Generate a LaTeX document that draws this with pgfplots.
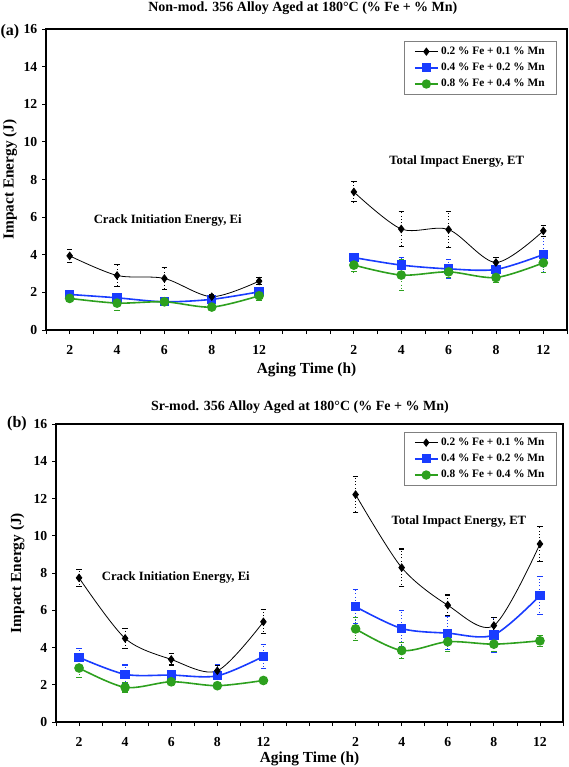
\documentclass[border=0pt]{standalone}
\usepackage{pgfplots}
\pgfplotsset{compat=1.18}
\usepackage{fontspec}
\setmainfont{Liberation Serif}
\definecolor{cblue}{RGB}{25,60,255}
\definecolor{cgreen}{RGB}{45,160,30}
\pgfplotsset{
 panel/.style={
  scale only axis, xmin=-0.5, xmax=10.5, ymin=0, ymax=16,
  ytick={0,2,...,16},
  xtick={0,1,2,3,4,6,7,8,9,10},
  xticklabels={2,4,6,8,12,2,4,6,8,12},
  minor xtick={-0.5,0.5,1.5,2.5,3.5,4.5,5,5.5,6.5,7.5,8.5,9.5,10.5},
  tick align=outside, tick pos=left,
  major tick length=3pt, minor tick length=3pt,
  every tick/.style={black, line width=0.6pt},
  axis line style={line width=0.8pt},
  tick label style={font=\fontsize{10.3}{11}\selectfont\bfseries},
  /pgf/number format/assume math mode=true,
  label style={font=\fontsize{11.5}{12}\selectfont\bfseries},
  every axis title/.style={font=\fontsize{10.5}{12}\selectfont\bfseries, anchor=center},
  xticklabel style={yshift=-5pt},
  legend style={draw=gray, line width=0.7pt, font=\fontsize{8.5}{9}\selectfont\bfseries, inner xsep=7pt, inner ysep=2pt, row sep=1pt},
  legend cell align=left,
 },
 ebars/.style={error bars/y dir=both, error bars/y explicit,
   error bars/error bar style={dotted, line width=0.8pt},
   error bars/error mark options={rotate=90, mark size=2pt, line width=0.8pt}},
 sblack/.style={black, line width=0.6pt, smooth, tension=0.5, mark=diamond*, mark size=2.8pt, mark options={solid}, ebars},
 sblue/.style={cblue, line width=1.2pt, smooth, tension=0.5, mark=square*, mark size=2.9pt, mark options={solid}, ebars},
 sgreen/.style={cgreen, line width=1.2pt, smooth, tension=0.5, mark=*, mark size=3pt, mark options={solid}, ebars},
 lblack/.style={black, line width=0.6pt, mark=diamond*, mark size=2.7pt},
 lblue/.style={cblue, line width=1.2pt, mark=square*, mark size=2.7pt},
 lgreen/.style={cgreen, line width=1.2pt, mark=*, mark size=2.9pt},
}
\begin{document}
\begin{tikzpicture}
\path[use as bounding box] (0,0) rectangle (426pt,-575.25pt);
% ---------- panel (a)
\begin{axis}[panel, at={(34.5pt,-247.5pt)}, anchor=south west, width=390.75pt, height=225.75pt,
  title={Non-mod. 356 Alloy Aged at 180°C (\% Fe + \% Mn)},
  title style={at={(axis description cs:0.493,1.068)}},
  xlabel={Aging Time (h)}, ylabel={Impact Energy (J)},
  xlabel style={at={(axis description cs:0.5,-0.133)}, anchor=center},
  ylabel style={at={(axis description cs:-0.069,0.5)}, anchor=center},
  legend style={at={(0.981,0.96)}, anchor=north east}]
\addlegendimage{lblack}\addlegendentry{0.2 \% Fe + 0.1 \% Mn}
\addlegendimage{lblue}\addlegendentry{0.4 \% Fe + 0.2 \% Mn}
\addlegendimage{lgreen}\addlegendentry{0.8 \% Fe + 0.4 \% Mn}
\addplot[sblue, forget plot] coordinates {(0,1.89)+-(0,0.12) (1,1.71)+-(0,0.15) (2,1.50)+-(0,0.2) (3,1.63)+-(0,0.12) (4,2.03)+-(0,0.25)};
\addplot[sblue, forget plot] coordinates {(6,3.85)+-(0,0.15) (7,3.45)+-(0,0.4) (8,3.25)+-(0,0.5) (9,3.22)+-(0,0.12) (10,4.01)+-(0,0.95)};
\addplot[sgreen, forget plot] coordinates {(0,1.68)+-(0,0.15) (1,1.43)+-(0,0.37) (2,1.50)+-(0,0.15) (3,1.22)+-(0,0.1) (4,1.82)+-(0,0.25)};
\addplot[sgreen, forget plot] coordinates {(6,3.45)+-(0,0.36) (7,2.92)+-(0,0.8) (8,3.09)+-(0,0.3) (9,2.79)+-(0,0.28) (10,3.57)+-(0,0.5)};
\addplot[sblack, forget plot] coordinates {(0,3.94)+-(0,0.33) (1,2.90)+-(0,0.6) (2,2.74)+-(0,0.58) (3,1.77)+-(0,0.1) (4,2.60)+-(0,0.18)};
\addplot[sblack, forget plot] coordinates {(6,7.34)+-(0,0.53) (7,5.37)+-(0,0.95) (8,5.34)+-(0,0.95) (9,3.59)+-(0,0.25) (10,5.27)+-(0,0.3)};
\node[font=\fontsize{9.5}{10}\selectfont\bfseries] at (axis cs:2.07,5.8) {Crack Initiation Energy, Ei};
\node[font=\fontsize{9.5}{10}\selectfont\bfseries] at (axis cs:8.17,8.98) {Total Impact Energy, ET};
\end{axis}
\node[font=\fontsize{12}{13}\selectfont\bfseries] at (7.5pt,-24pt) {(a)};
% ---------- panel (b)
\begin{axis}[panel, at={(42pt,-541.5pt)}, anchor=south west, width=380.25pt, height=223.5pt,
  title={Sr-mod. 356 Alloy Aged at 180°C (\% Fe + \% Mn)},
  title style={at={(axis description cs:0.481,1.055)}},
  xlabel={Aging Time (h)}, ylabel={Impact Energy (J)},
  xlabel style={at={(axis description cs:0.5,-0.124)}, anchor=center},
  ylabel style={at={(axis description cs:-0.076,0.5)}, anchor=center},
  legend style={at={(0.988,0.973)}, anchor=north east}]
\addlegendimage{lblack}\addlegendentry{0.2 \% Fe + 0.1 \% Mn}
\addlegendimage{lblue}\addlegendentry{0.4 \% Fe + 0.2 \% Mn}
\addlegendimage{lgreen}\addlegendentry{0.8 \% Fe + 0.4 \% Mn}
\addplot[sblue, forget plot] coordinates {(0,3.47)+-(0,0.5) (1,2.56)+-(0,0.5) (2,2.52)+-(0,0.25) (3,2.48)+-(0,0.6) (4,3.52)+-(0,0.63)};
\addplot[sblue, forget plot] coordinates {(6,6.19)+-(0,0.9) (7,5.02)+-(0,0.95) (8,4.77)+-(0,0.9) (9,4.68)+-(0,0.95) (10,6.79)+-(0,1.0)};
\addplot[sgreen, forget plot] coordinates {(0,2.90)+-(0,0.5) (1,1.86)+-(0,0.25) (2,2.16)+-(0,0.2) (3,1.95)+-(0,0.1) (4,2.23)+-(0,0.1)};
\addplot[sgreen, forget plot] coordinates {(6,5.00)+-(0,0.63) (7,3.84)+-(0,0.42) (8,4.31)+-(0,0.5) (9,4.18)+-(0,0.4) (10,4.36)+-(0,0.3)};
\addplot[sblack, forget plot] coordinates {(0,7.74)+-(0,0.45) (1,4.49)+-(0,0.55) (2,3.36)+-(0,0.3) (3,2.75)+-(0,0.3) (4,5.38)+-(0,0.65)};
\addplot[sblack, forget plot] coordinates {(6,12.21)+-(0,0.95) (7,8.29)+-(0,1.0) (8,6.27)+-(0,0.55) (9,5.18)+-(0,0.45) (10,9.56)+-(0,0.95)};
\node[font=\fontsize{9.5}{10}\selectfont\bfseries] at (axis cs:2.1,7.75) {Crack Initiation Energy, Ei};
\node[font=\fontsize{9.5}{10}\selectfont\bfseries] at (axis cs:8.24,10.75) {Total Impact Energy, ET};
\end{axis}
\node[font=\fontsize{12}{13}\selectfont\bfseries] at (12.75pt,-318pt) {(b)};
\end{tikzpicture}
\end{document}
